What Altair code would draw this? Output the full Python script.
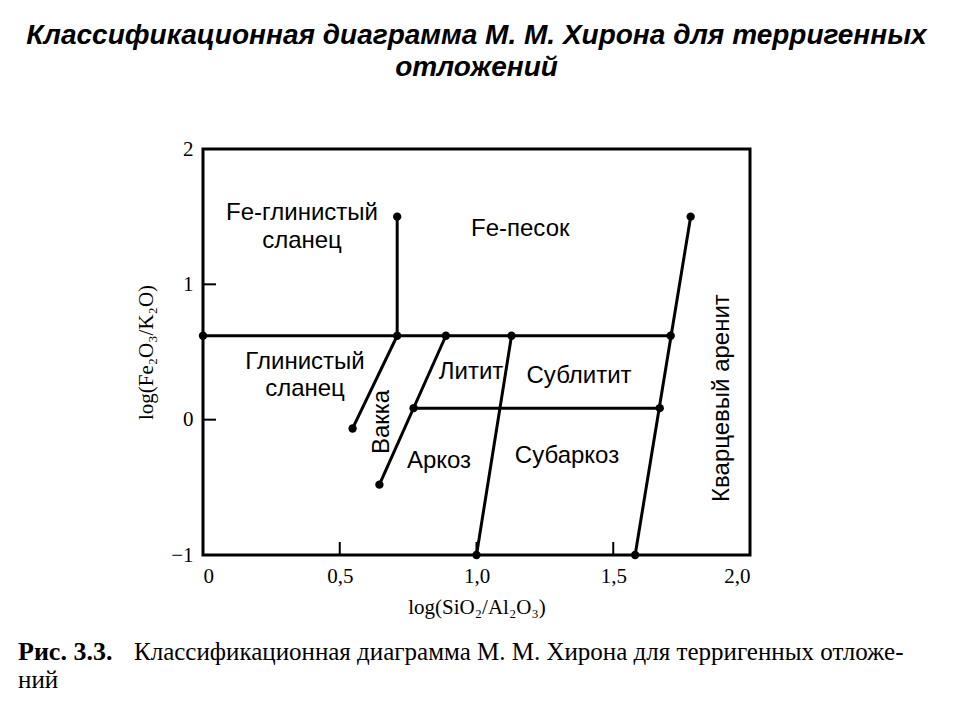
import altair as alt
import pandas as pd

# Boundary segments (start/end in data units)
seg_x1 = [0.0, 0.71, 0.547, 0.645, 0.77, 1.0, 1.58]
seg_y1 = [0.62, 0.62, -0.065, -0.48, 0.085, -1.0, -1.0]
seg_x2 = [1.71, 0.71, 0.71, 0.888, 1.67, 1.128, 1.783]
seg_y2 = [0.62, 1.5, 0.62, 0.62, 0.085, 0.62, 1.5]

# Node points
pt_x = [0.0, 1.71, 0.71, 0.71, 0.547, 0.645, 0.888, 0.77, 1.67, 1.0, 1.128, 1.58, 1.783]
pt_y = [0.62, 0.62, 0.62, 1.5, -0.065, -0.48, 0.62, 0.085, 0.085, -1.0, 0.62, -1.0, 1.5]

# Field labels
lbl_text = ["Fe-глинистый", "сланец", "Fe-песок", "Глинистый", "сланец",
            "Литит", "Сублитит", "Аркоз", "Субаркоз"]
lbl_x = [0.362, 0.362, 1.16, 0.373, 0.373, 0.98, 1.375, 0.863, 1.331]
lbl_y = [1.528, 1.32, 1.41, 0.426, 0.227, 0.353, 0.323, -0.305, -0.268]

rot_text = ["Вакка", "Кварцевый аренит"]
rot_x = [0.654, 1.898]
rot_y = [-0.017, 0.16]

x_ticks = [0.5, 1.0, 1.5]
y_ticks = [0, 1]
x_tick_labels = [0, 0.5, 1.0, 1.5, 2.0]
y_tick_labels = [-1, 0, 1, 2]

title_lines = ["Классификационная диаграмма М. М. Хирона для терригенных", "отложений"]
caption_bold = "Рис. 3.3."
caption_rest = "Классификационная диаграмма М. М. Хирона для терригенных отложе-"
caption_line2 = "ний"

W, H = 547, 406
SERIF = "Liberation Serif, Times New Roman, DejaVu Serif, serif"
SANS = "Liberation Sans, Arial, DejaVu Sans, sans-serif"

xscale = alt.Scale(domain=[0, 2], nice=False, zero=False)
yscale = alt.Scale(domain=[-1, 2], nice=False, zero=False)

xaxis = alt.Axis(values=x_tick_labels, title="log(SiO₂/Al₂O₃)", grid=False, ticks=False, domain=False,
                 labelExpr="datum.value == 0 ? '0' : replace(format(datum.value, '.1f'), '.', ',')",
                 labelFont=SERIF, labelFontSize=21, labelColor="black", labelPadding=10,
                 titleFont=SERIF, titleFontSize=21, titleFontWeight="normal", titleColor="black",
                 titlePadding=10)
yaxis = alt.Axis(values=y_tick_labels, title="log(Fe₂O₃/K₂O)", grid=False, ticks=False, domain=False,
                 format="d", labelFont=SERIF, labelFontSize=21, labelColor="black", labelPadding=10,
                 titleFont=SERIF, titleFontSize=21, titleFontWeight="normal", titleColor="black",
                 titlePadding=14)

segs = pd.DataFrame({"x1": seg_x1, "y1": seg_y1, "x2": seg_x2, "y2": seg_y2})
pts = pd.DataFrame({"x": pt_x, "y": pt_y})
lbls = pd.DataFrame({"t": lbl_text, "x": lbl_x, "y": lbl_y})
rots = pd.DataFrame({"t": rot_text, "x": rot_x, "y": rot_y})

lines = alt.Chart(segs).mark_rule(color="black", strokeWidth=3).encode(
    x=alt.X("x1:Q", scale=xscale, axis=xaxis),
    y=alt.Y("y1:Q", scale=yscale, axis=yaxis),
    x2="x2:Q", y2="y2:Q")

dots = alt.Chart(pts).mark_circle(color="black", opacity=1, size=70).encode(
    x=alt.X("x:Q", scale=xscale), y=alt.Y("y:Q", scale=yscale))

texts = alt.Chart(lbls).mark_text(font=SANS, fontSize=24, color="black").encode(
    x=alt.X("x:Q", scale=xscale), y=alt.Y("y:Q", scale=yscale), text="t:N")

rtexts = alt.Chart(rots).mark_text(font=SANS, fontSize=24, color="black", angle=270).encode(
    x=alt.X("x:Q", scale=xscale), y=alt.Y("y:Q", scale=yscale), text="t:N")

xt = alt.Chart(pd.DataFrame({"v": x_ticks})).mark_rule(color="black", strokeWidth=2).encode(
    x=alt.X("v:Q", scale=xscale), y=alt.value(H), y2=alt.value(H - 13))
yt = alt.Chart(pd.DataFrame({"v": y_ticks})).mark_rule(color="black", strokeWidth=2).encode(
    y=alt.Y("v:Q", scale=yscale), x=alt.value(0), x2=alt.value(13))

cap1 = alt.Chart(pd.DataFrame({"t": [caption_bold]})).mark_text(
    font=SERIF, fontSize=26, fontWeight="bold", color="black", align="left", baseline="middle"
).encode(text="t:N", x=alt.value(-185), y=alt.value(503))
cap2 = alt.Chart(pd.DataFrame({"t": [caption_rest]})).mark_text(
    font=SERIF, fontSize=25, color="black", align="left", baseline="middle"
).encode(text="t:N", x=alt.value(-69), y=alt.value(503))
cap3 = alt.Chart(pd.DataFrame({"t": [caption_line2]})).mark_text(
    font=SERIF, fontSize=25, color="black", align="left", baseline="middle"
).encode(text="t:N", x=alt.value(-185), y=alt.value(531))

chart = alt.layer(lines, xt, yt, dots, texts, rtexts, cap1, cap2, cap3).properties(
    width=W, height=H,
    padding={"left": 195, "top": 141, "right": 185, "bottom": 142},
    autosize=alt.AutoSizeParams(type="none"),
    background="white",
    title=alt.TitleParams(title_lines, font="Liberation Sans Narrow, Liberation Sans, sans-serif",
                          fontSize=28, fontStyle="italic", fontWeight="bold", color="black",
                          anchor="middle", offset=56, lineHeight=32),
).configure_view(stroke="black", strokeWidth=3)

chart.save("out.html", embed_options={"renderer": "svg", "actions": False})
